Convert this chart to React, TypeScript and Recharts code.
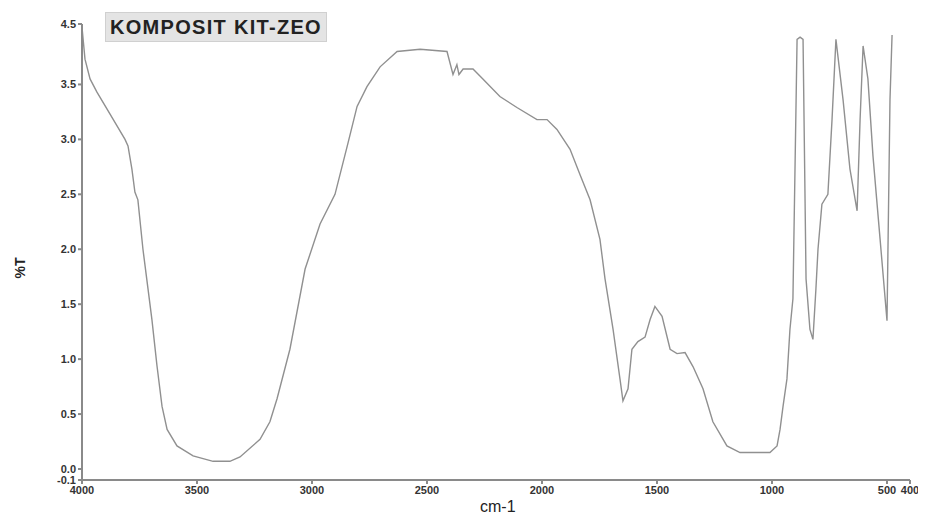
import React from "react";
import { LineChart, Line, XAxis, YAxis } from "recharts";

// FTIR spectrum (wavenumber cm-1, %T)
const wavenumbers = [
  4000, 3987, 3965, 3935, 3878, 3813, 3800, 3783, 3770, 3757, 3735, 3713, 3696, 3674, 3652, 3630,
  3587, 3517, 3430, 3357, 3313, 3226, 3183, 3152, 3096, 3030, 2965, 2900, 2843, 2804, 2761, 2704,
  2630, 2530, 2413, 2387, 2370, 2361, 2343, 2300, 2257, 2183, 2109, 2022, 1978, 1935, 1878, 1835,
  1791, 1748, 1726, 1691, 1661, 1648, 1626, 1609, 1583, 1552, 1530, 1509, 1478, 1443, 1413, 1378,
  1343, 1300, 1257, 1196, 1139, 1009, 978, 965, 952, 935, 922, 909, 891, 878, 865, 852,
  835, 822, 809, 800, 783, 757, 739, 722, 691, 661, 630, 617, 604, 583, 561, 530,
  500, 487, 478,
];
const transmittance = [
  4.02, 3.73, 3.55, 3.43, 3.23, 3.0, 2.94, 2.73, 2.52, 2.45, 2.0, 1.64, 1.36, 0.94, 0.57, 0.36,
  0.21, 0.12, 0.07, 0.07, 0.11, 0.27, 0.43, 0.64, 1.09, 1.82, 2.23, 2.5, 2.97, 3.3, 3.48, 3.66,
  3.8, 3.82, 3.8, 3.59, 3.68, 3.59, 3.64, 3.64, 3.55, 3.39, 3.29, 3.18, 3.18, 3.09, 2.91, 2.68,
  2.45, 2.09, 1.73, 1.27, 0.82, 0.62, 0.73, 1.09, 1.16, 1.2, 1.36, 1.48, 1.39, 1.09, 1.05, 1.06,
  0.93, 0.73, 0.43, 0.21, 0.15, 0.15, 0.21, 0.36, 0.57, 0.82, 1.27, 1.55, 3.91, 3.93, 3.91, 1.73,
  1.27, 1.18, 1.64, 2.0, 2.41, 2.5, 3.18, 3.91, 3.36, 2.73, 2.35, 3.18, 3.85, 3.55, 2.85, 2.09,
  1.35, 3.36, 3.95,
];

const xTicks = [4000, 3500, 3000, 2500, 2000, 1500, 1000, 500, 400];
const yTicks = [-0.1, 0, 0.5, 1, 1.5, 2, 2.5, 3, 3.5, 4.05];
const yTickLabels = ["-0.1", "0.0", "0.5", "1.0", "1.5", "2.0", "2.5", "3.0", "3.5", "4.5"];

const data = wavenumbers.map((w, i) => ({ w, t: transmittance[i] }));

const font = "'Liberation Sans', Arial, sans-serif";
const tickStyle = { fontSize: 11, fontWeight: 700, fill: "#333", fontFamily: font };

export default function App() {
  return (
    <div style={{ position: "relative", width: 918, height: 511, fontFamily: font }}>
      <LineChart width={918} height={511} data={data} margin={{ top: 16, right: 16, left: 0, bottom: 9 }}>
        <XAxis
          dataKey="w"
          type="number"
          domain={[400, 4000]}
          reversed
          ticks={xTicks}
          interval={0}
          height={30}
          tickSize={4}
          stroke="#8a8a8a"
          strokeWidth={2}
          tick={tickStyle}
        />
        <YAxis
          type="number"
          domain={[-0.1, 4.05]}
          ticks={yTicks}
          interval={0}
          width={74}
          tickSize={4}
          stroke="#8a8a8a"
          strokeWidth={2}
          tick={tickStyle}
          tickFormatter={(v: number) => yTickLabels[yTicks.indexOf(v)] ?? String(v)}
        />
        <Line
          dataKey="t"
          type="linear"
          stroke="#909090"
          strokeWidth={1.4}
          dot={false}
          isAnimationActive={false}
        />
      </LineChart>
      <div
        style={{
          position: "absolute",
          left: 97,
          top: 4,
          padding: "2px 4px",
          background: "#e4e4e4",
          border: "1px solid #d0d0d0",
          fontSize: 20,
          fontWeight: 700,
          color: "#222",
          letterSpacing: 1.3,
          lineHeight: "24px",
        }}
      >
        KOMPOSIT KIT-ZEO
      </div>
      <div
        style={{
          position: "absolute",
          left: 0,
          top: 248,
          width: 24,
          height: 24,
          transform: "rotate(-90deg)",
          fontSize: 14,
          fontWeight: 700,
          color: "#222",
          textAlign: "center",
          lineHeight: "24px",
        }}
      >
        %T
      </div>
      <div
        style={{
          position: "absolute",
          left: 472,
          top: 490,
          fontSize: 16,
          color: "#222",
        }}
      >
        cm-1
      </div>
    </div>
  );
}
